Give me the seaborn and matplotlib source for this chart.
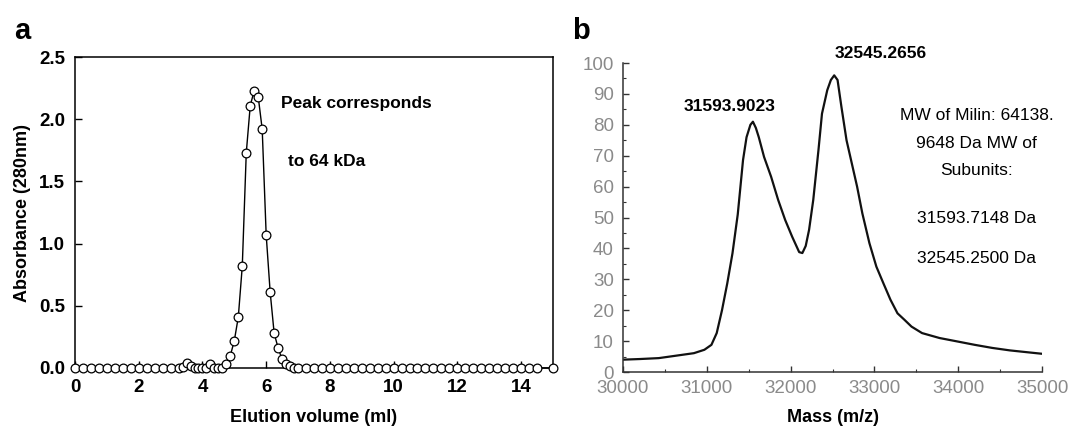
import numpy as np
import pandas as pd
import seaborn as sns
import matplotlib.pyplot as plt
from matplotlib.ticker import MultipleLocator

# panel a: gel filtration, absorbance per fraction
vol = [0.0, 0.25, 0.5, 0.75, 1.0, 1.25, 1.5, 1.75, 2.0, 2.25, 2.5, 2.75, 3.0, 3.25,
       3.375, 3.5, 3.625, 3.75, 3.875, 4.0, 4.125, 4.25, 4.375, 4.5, 4.625, 4.75,
       4.875, 5.0, 5.125, 5.25, 5.375, 5.5, 5.625, 5.75, 5.875, 6.0, 6.125, 6.25,
       6.375, 6.5, 6.625, 6.75, 6.875, 7.0,
       7.25, 7.5, 7.75, 8.0, 8.25, 8.5, 8.75, 9.0, 9.25, 9.5, 9.75, 10.0, 10.25,
       10.5, 10.75, 11.0, 11.25, 11.5, 11.75, 12.0, 12.25, 12.5, 12.75, 13.0,
       13.25, 13.5, 13.75, 14.0, 14.25, 14.5, 15.0]
absorb = [0, 0, 0, 0, 0, 0, 0, 0, 0, 0, 0, 0, 0, 0,
          0.01, 0.04, 0.02, 0.0, 0.0, 0.0, 0.0, 0.035, 0.0, 0.0, 0.0, 0.035,
          0.10, 0.22, 0.41, 0.82, 1.73, 2.11, 2.23, 2.18, 1.92, 1.07, 0.61, 0.28,
          0.16, 0.07, 0.035, 0.015, 0.0, 0.0,
          0, 0, 0, 0, 0, 0, 0, 0, 0, 0, 0, 0, 0,
          0, 0, 0, 0, 0, 0, 0, 0, 0, 0, 0,
          0, 0, 0, 0, 0, 0, 0]

# panel b: mass spectrum (deconvoluted)
mass = [30000, 30200, 30427, 30637, 30846, 30971, 31055, 31118, 31181, 31244,
        31306, 31369, 31432, 31474, 31520, 31550, 31585, 31620, 31683, 31767,
        31851, 31935, 32018, 32102, 32140, 32180, 32220, 32270, 32332, 32374,
        32437, 32480, 32520, 32560, 32605, 32667, 32730, 32793, 32856, 32940,
        33023, 33107, 33191, 33275, 33358, 33442, 33568, 33777, 33987, 34196,
        34405, 34615, 34824, 35000]
intensity = [4.0, 4.2, 4.5, 5.3, 6.1, 7.2, 8.8, 12.6, 20.0, 28.7,
             38.4, 51.0, 68.6, 76.0, 80.0, 81.0, 79.0, 76.0, 69.6, 63.2,
             55.7, 49.2, 43.8, 38.8, 38.5, 40.8, 46.0, 55.7, 71.8, 83.6,
             91.2, 94.5, 96.0, 94.5, 86.0, 75.0, 67.5, 60.0, 51.3, 41.7,
             34.1, 28.7, 23.4, 19.0, 16.9, 14.7, 12.6, 11.0, 9.9, 8.8,
             7.8, 7.0, 6.4, 5.9]

peak_labels = ["31593.9023", "32545.2656"]
note_lines = ["MW of Milin: 64138.", "9648 Da MW of", "Subunits:",
              "31593.7148 Da", "32545.2500 Da"]

sns.set_theme(style="ticks")
plt.rcParams['font.family'] = ['Liberation Sans', 'DejaVu Sans']
plt.rcParams['text.color'] = 'black'
plt.rcParams['axes.labelcolor'] = 'black'

fig = plt.figure(figsize=(10.69, 4.28), dpi=100)
ax1 = fig.add_axes([0.0702, 0.1402, 0.447, 0.7266])
ax2 = fig.add_axes([0.5828, 0.1308, 0.392, 0.722])

# ---- a ----
sns.lineplot(x=vol, y=absorb, ax=ax1, color='black', lw=1.0, errorbar=None,
             marker='o', markersize=6.3, markerfacecolor='white',
             markeredgecolor='black', markeredgewidth=0.9, clip_on=False, zorder=3)
ax1.set_xlim(0, 15)
ax1.set_ylim(0, 2.5)
ax1.xaxis.set_major_locator(MultipleLocator(2))
ax1.yaxis.set_major_locator(MultipleLocator(0.5))
ax1.yaxis.set_major_formatter(plt.FormatStrFormatter('%.1f'))
ax1.tick_params(direction='in', length=5, width=1, labelsize=13.5, colors='black')
ax1.tick_params(axis='x', pad=8)
ax1.tick_params(axis='y', pad=7)
for lab in ax1.get_xticklabels() + ax1.get_yticklabels():
    lab.set_fontweight('bold')
for s in ax1.spines.values():
    s.set_color('black')
    s.set_linewidth(1.1)
ax1.set_xlabel("Elution volume (ml)", fontsize=13, fontweight='bold', labelpad=9)
ax1.set_ylabel("Absorbance (280nm)", fontsize=13, fontweight='bold', labelpad=6)
ax1.text(6.45, 2.13, "Peak corresponds", fontsize=12.5, fontweight='bold', va='center')
ax1.text(6.7, 1.66, "to 64 kDa", fontsize=12.5, fontweight='bold', va='center')

# ---- b ----
sns.lineplot(x=mass, y=intensity, ax=ax2, color='#111111', lw=1.6, errorbar=None)
ax2.set_xlim(30000, 35000)
ax2.set_ylim(0, 100)
sns.despine(ax=ax2)
ax2.xaxis.set_major_locator(MultipleLocator(1000))
ax2.xaxis.set_minor_locator(MultipleLocator(500))
ax2.yaxis.set_major_locator(MultipleLocator(10))
ax2.yaxis.set_minor_locator(MultipleLocator(5))
ax2.tick_params(which='major', direction='in', length=4, width=1, pad=5.5,
                labelsize=13.5, labelcolor='#8a8a8a', color='#333333')
ax2.tick_params(axis='y', pad=6.5)
ax2.tick_params(which='minor', direction='in', length=2.5, width=0.8, color='#333333')
for s in ax2.spines.values():
    s.set_color('#333333')
    s.set_linewidth(1.1)
ax2.set_xlabel("Mass (m/z)", fontsize=13, fontweight='bold', labelpad=9)
ax2.set_ylabel("")
ax2.text(31269, 86, peak_labels[0], fontsize=12.5, fontweight='bold',
         ha='center', va='center')
ax2.text(33074, 103, peak_labels[1], fontsize=12.5, fontweight='bold',
         ha='center', va='center', clip_on=False)
for txt, yy in zip(note_lines, [83.1, 74.0, 65.3, 49.7, 36.8]):
    ax2.text(34217, yy, txt, fontsize=12.5, ha='center', va='center', clip_on=False)

fig.text(0.013, 0.91, "a", fontsize=21, fontweight='bold', va='baseline')
fig.text(0.535, 0.91, "b", fontsize=21, fontweight='bold', va='baseline')

fig.savefig("out.png", dpi=100)
